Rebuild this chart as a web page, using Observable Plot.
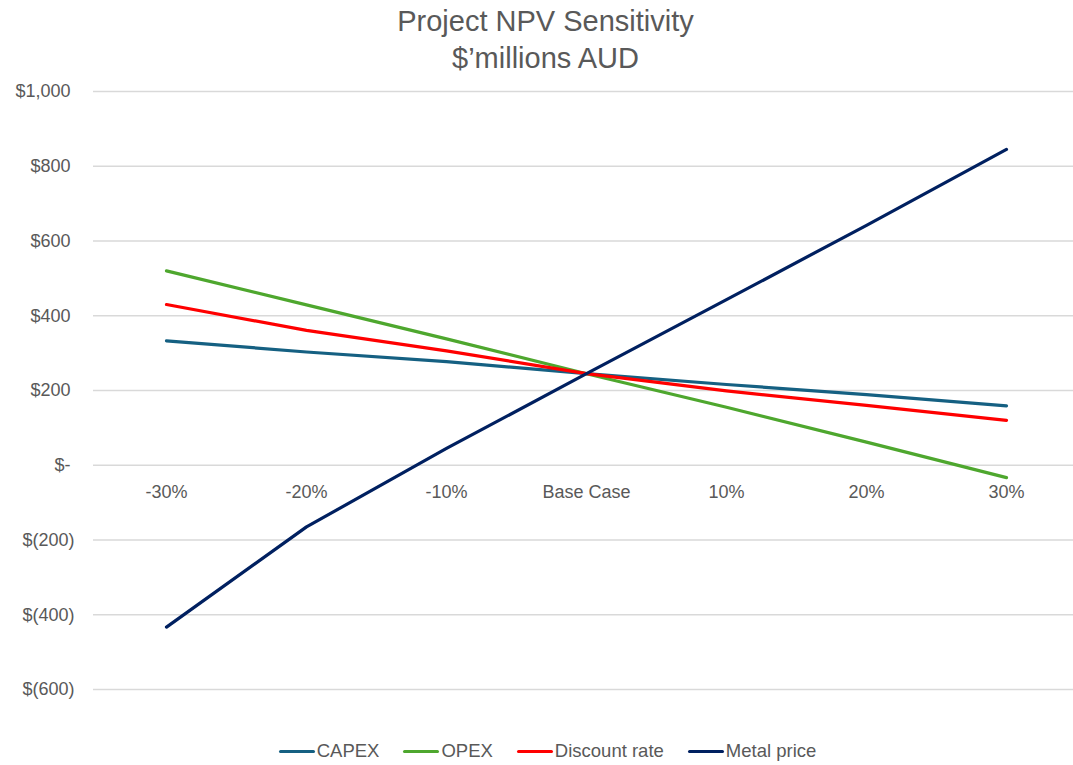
<!DOCTYPE html>
<html>
<head>
<meta charset="utf-8">
<script src="https://cdn.jsdelivr.net/npm/d3@7"></script>
<script src="https://cdn.jsdelivr.net/npm/@observablehq/plot@0.6"></script>
<style>
  html, body { margin: 0; padding: 0; background: #fff; }
  body { width: 1073px; height: 765px; overflow: hidden; font-family: "Liberation Sans", Arial, sans-serif; color: #595959; }
  #title { height: 80px; box-sizing: border-box; padding-top: 3px; padding-left: 18px; text-align: center; font-size: 29px; line-height: 37px; color: #595959; }
  #legend { display: flex; justify-content: center; align-items: center; gap: 24px; padding-top: 20px; padding-left: 22px; font-size: 18.5px; color: #595959; }
  .item { display: flex; align-items: center; }
  .sw { width: 36px; height: 3px; border-radius: 2px; margin-right: 2px; }
</style>
</head>
<body>
<div id="title">Project NPV Sensitivity<br>$’millions AUD</div>
<div id="chart"></div>
<div id="legend"></div>
<script>
const categories = ["-30%", "-20%", "-10%", "Base Case", "10%", "20%", "30%"];
const capex    = [333, 303, 277, 245, 216, 189, 159];
const opex     = [520, 429, 338, 245, 155, 62, -33];
const discount = [430, 361, 306, 245, 199, 160, 120];
const metal    = [-433, -165, 45, 245, 443, 642, 845];
const seriesNames = ["CAPEX", "OPEX", "Discount rate", "Metal price"];
const seriesColors = ["#156082", "#4ea72e", "#ff0000", "#002060"];
const yTicks = [-600, -400, -200, 0, 200, 400, 600, 800, 1000];

const seriesValues = [capex, opex, discount, metal];
const data = seriesNames.flatMap((s, i) =>
  categories.map((c, j) => ({series: s, category: c, value: seriesValues[i][j]}))
);

function fmt(v) {
  if (v === 0) return "$-";
  if (v < 0) return "$(" + d3.format(",")(-v) + ")";
  return "$" + d3.format(",")(v);
}

const chart = Plot.plot({
  width: 1073,
  height: 640,
  marginTop: 11,
  marginBottom: 31,
  marginLeft: 95,
  marginRight: -4,
  style: {fontFamily: "'Liberation Sans', Arial, sans-serif", fontSize: "18px", color: "#595959", background: "#fff", overflow: "visible"},
  x: {type: "point", domain: categories, padding: 0.5, axis: null},
  y: {domain: [-600, 1000], axis: null},
  color: {domain: seriesNames, range: seriesColors},
  marks: [
    Plot.ruleY(yTicks, {stroke: "#d9d9d9", strokeWidth: 1.3, insetLeft: -2, insetRight: 4}),
    Plot.axisY(yTicks.filter(d => d >= 0), {tickSize: 0, tickPadding: 25, tickFormat: fmt, fill: "#595959", fontSize: 18, label: null}),
    Plot.axisY(yTicks.filter(d => d < 0), {tickSize: 0, tickPadding: 21, tickFormat: fmt, fill: "#595959", fontSize: 18, label: null}),
    Plot.text(categories, {x: d => d, y: () => 0, dy: 27, fill: "#595959", fontSize: 18}),
    Plot.line(data, {x: "category", y: "value", z: "series", stroke: "series", strokeWidth: 3.2, strokeLinecap: "round", strokeLinejoin: "round"})
  ]
});
document.getElementById("chart").appendChild(chart);

const legend = document.getElementById("legend");
seriesNames.forEach((s, i) => {
  const item = document.createElement("div");
  item.className = "item";
  const sw = document.createElement("div");
  sw.className = "sw";
  sw.style.background = seriesColors[i];
  const t = document.createElement("span");
  t.textContent = s;
  item.appendChild(sw);
  item.appendChild(t);
  legend.appendChild(item);
});
</script>
</body>
</html>
